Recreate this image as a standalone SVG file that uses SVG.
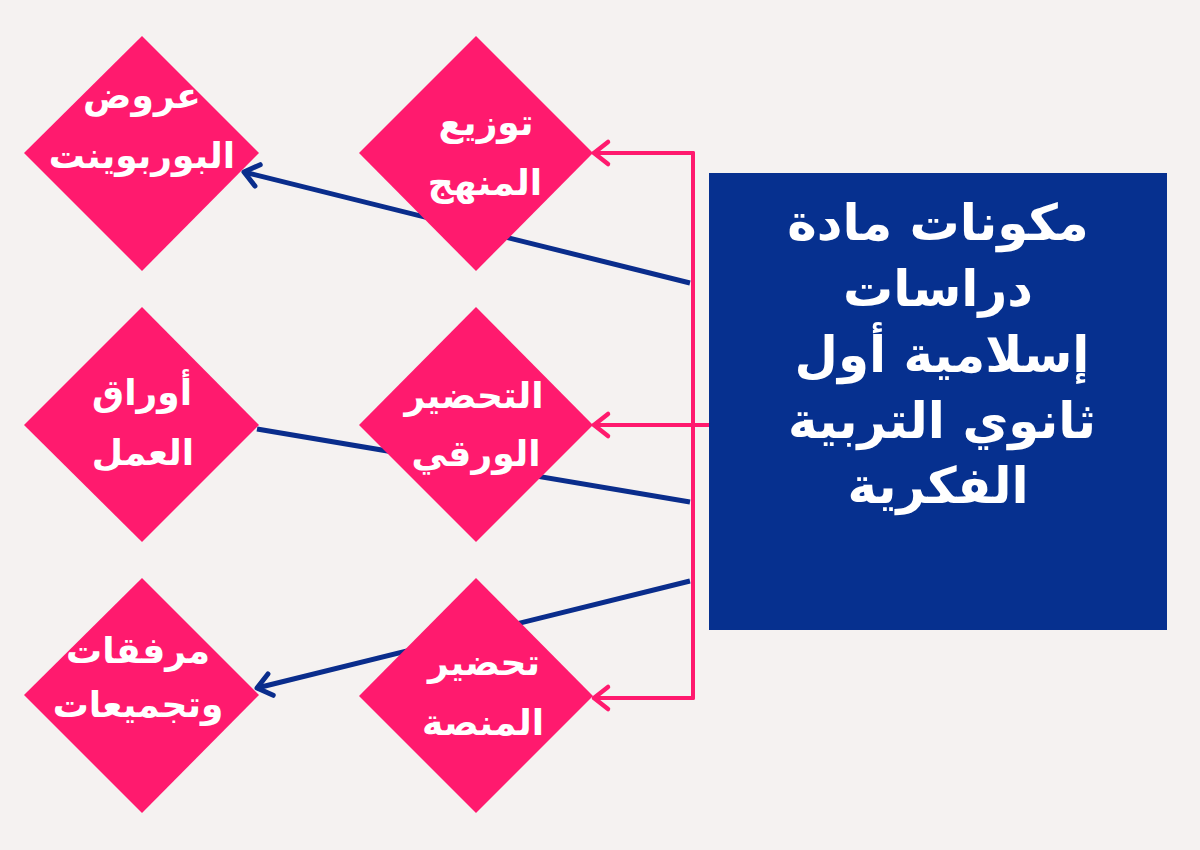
<svg xmlns="http://www.w3.org/2000/svg" width="1200" height="850" viewBox="0 0 1200 850">
<style>
.dia{fill:#FF1A6E;}
.lbl{fill:#ffffff;font-family:'DejaVu Sans','Noto Sans',sans-serif;font-weight:bold;font-size:36px;text-anchor:middle;}
.ttl{fill:#ffffff;font-family:'DejaVu Sans','Noto Sans',sans-serif;font-weight:bold;font-size:50px;text-anchor:middle;}
.pk{fill:none;stroke:#FF1A6E;stroke-width:4;stroke-linecap:round;stroke-linejoin:round;}
.bl{fill:none;stroke:#0A2D8C;stroke-width:5;stroke-linecap:butt;}
</style>
<defs>
<marker id="ap" markerUnits="userSpaceOnUse" markerWidth="40" markerHeight="40" viewBox="-20 -20 40 40" refX="0" refY="0" orient="auto" overflow="visible">
<path d="M-14,-11 L0,0 L-14,11" fill="none" stroke="#FF1A6E" stroke-width="4.5" stroke-linecap="round" stroke-linejoin="round"/>
</marker>
<marker id="ab" markerUnits="userSpaceOnUse" markerWidth="40" markerHeight="40" viewBox="-20 -20 40 40" refX="0" refY="0" orient="auto" overflow="visible">
<path d="M-14,-11 L0,0 L-14,11" fill="none" stroke="#0A2D8C" stroke-width="5" stroke-linecap="round" stroke-linejoin="round"/>
</marker>
</defs>
<rect x="0" y="0" width="1200" height="850" fill="#F5F2F1"/>
<g id="connectors">
<line class="bl" x1="690" y1="283" x2="244" y2="172" marker-end="url(#ab)"/>
<line class="bl" x1="690" y1="502" x2="257" y2="429"/>
<line class="bl" x1="690" y1="581" x2="257" y2="688" marker-end="url(#ab)"/>
<path class="pk" d="M693,698 L693,153"/>
<line class="pk" x1="693" y1="153" x2="594" y2="153" marker-end="url(#ap)"/>
<line class="pk" x1="710" y1="425" x2="594" y2="425" marker-end="url(#ap)"/>
<line class="pk" x1="693" y1="698" x2="594" y2="698" marker-end="url(#ap)"/>
</g>
<g id="center">
<rect x="709" y="173" width="458" height="457" fill="#06308F"/>
<text class="ttl" x="938" y="240">مكونات مادة</text>
<text class="ttl" x="938" y="306">دراسات</text>
<text class="ttl" x="942" y="372">إسلامية أول</text>
<text class="ttl" x="942" y="438">ثانوي التربية</text>
<text class="ttl" x="938" y="503">الفكرية</text>
</g>
<g id="node-powerpoint">
<polygon class="dia" points="142,36 259,153 142,271 24,153"/>
<text class="lbl" x="142" y="108">عروض</text>
<text class="lbl" x="142" y="168">البوربوينت</text>
</g>
<g id="node-curriculum">
<polygon class="dia" points="476,36 593,153 476,271 359,153"/>
<text class="lbl" x="486" y="135">توزيع</text>
<text class="lbl" x="485" y="195">المنهج</text>
</g>
<g id="node-worksheets">
<polygon class="dia" points="142,307 259,425 142,542 24,425"/>
<text class="lbl" x="142" y="405">أوراق</text>
<text class="lbl" x="143" y="465">العمل</text>
</g>
<g id="node-paper">
<polygon class="dia" points="476,307 593,425 476,542 359,425"/>
<text class="lbl" x="474" y="408">التحضير</text>
<text class="lbl" x="476" y="466">الورقي</text>
</g>
<g id="node-attachments">
<polygon class="dia" points="142,578 259,695 142,813 24,695"/>
<text class="lbl" x="138" y="663">مرفقات</text>
<text class="lbl" x="138" y="717">وتجميعات</text>
</g>
<g id="node-platform">
<polygon class="dia" points="476,578 593,696 476,813 359,696"/>
<text class="lbl" x="484" y="675">تحضير</text>
<text class="lbl" x="483" y="735">المنصة</text>
</g>
</svg>
